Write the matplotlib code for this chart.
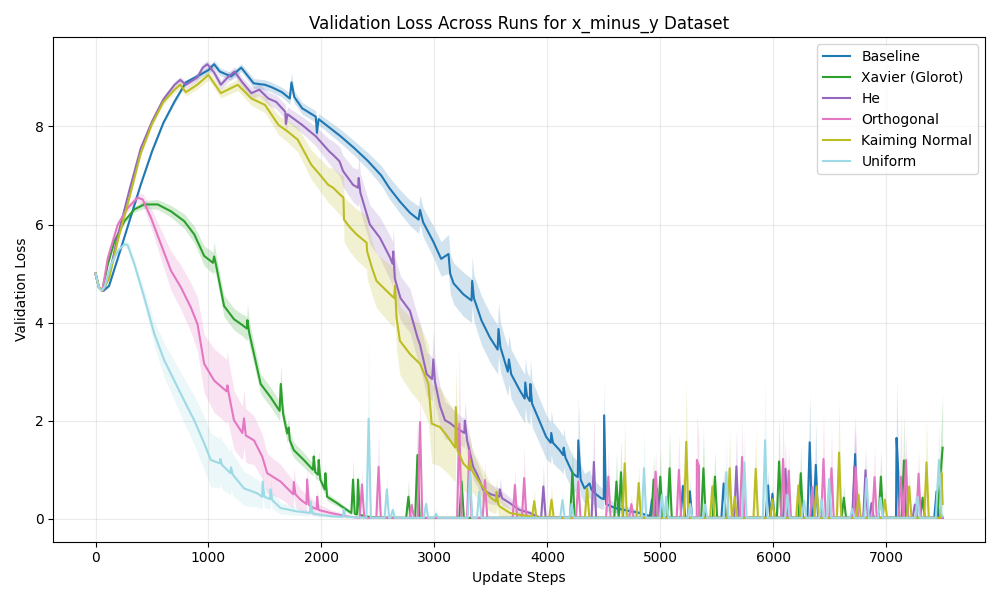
import numpy as np
import matplotlib
matplotlib.use("Agg")
import matplotlib.pyplot as plt

# ---- data: (step, mean, std) along each curve ----
baseline_curve = [(0,5.0,0.02),(30,4.72,0.02),(70,4.65,0.02),(120,4.75,0.03),(200,5.33,0.03),(300,6.07,0.03),
    (400,6.81,0.03),(500,7.49,0.04),(600,8.07,0.04),(700,8.51,0.05),(800,8.9,0.05),(900,9.02,0.06),(1000,9.15,0.07),
    (1050,9.27,0.08),(1100,9.12,0.08),(1200,9.02,0.08),(1290,9.2,0.08),(1400,8.88,0.1),(1500,8.85,0.1),(1560,8.8,0.1),
    (1650,8.7,0.1),(1720,8.57,0.12),(1735,8.9,0.2),(1760,8.6,0.12),(1830,8.37,0.12),(1950,8.2,0.12),(1960,7.87,0.15),
    (1975,8.15,0.12),(2020,8.07,0.12),(2170,7.8,0.14),(2290,7.56,0.15),(2410,7.3,0.17),(2530,7.0,0.2),(2600,6.75,0.22),
    (2695,6.47,0.24),(2784,6.24,0.26),(2860,6.1,0.28),(2873,6.3,0.3),(2900,6.05,0.3),(2991,5.65,0.32),(3060,5.3,0.35),
    (3125,5.4,0.4),(3140,5.0,0.4),(3170,4.8,0.42),(3256,4.58,0.45),(3329,4.45,0.45),(3335,4.85,0.5),(3350,4.5,0.47),
    (3418,4.04,0.5),(3491,3.7,0.5),(3560,3.45,0.5),(3568,3.87,0.55),(3585,3.5,0.5),(3650,3.0,0.5),(3660,3.25,0.5),
    (3680,2.95,0.5),(3756,2.62,0.5),(3800,2.45,0.5),(3805,2.78,0.5),(3820,2.5,0.5),(3845,2.4,0.48),(3850,2.75,0.5),
    (3865,2.35,0.47),(3990,1.67,0.45),(4030,1.55,0.42),(4035,1.75,0.45),(4050,1.55,0.42),(4109,1.4,0.4),(4140,1.3,0.38),
    (4145,1.45,0.4),(4160,1.25,0.37),(4226,0.92,0.35),(4270,0.85,0.33),(4274,1.6,0.9),(4295,0.8,0.32),(4329,0.62,0.3),
    (4374,0.72,0.28),(4390,0.6,0.27),(4432,0.5,0.25),(4476,0.42,0.22),(4500,0.4,0.2),(4503,2.11,0.7),(4520,0.3,0.15),
    (4600,0.22,0.1),(4700,0.17,0.08),(4800,0.13,0.06),(4900,0.06,0.03),(5000,0.03,0.01),(7500,0.02,0.01)]
# late spikes: (step, peak mean, band top)
baseline_spikes = [(4926,0.39,0.6),(5200,0.67,0.9),(5262,0.56,0.8),(5561,0.72,1.0),(5954,0.68,1.0),(5993,0.51,0.7),
    (6323,1.56,2.56),(6377,1.1,1.95),(6725,1.32,2.12),(7092,1.65,2.86),(7107,0.95,1.3),(7446,0.56,0.8)]

xavier_curve = [(0,5.0,0.02),(30,4.72,0.02),(60,4.65,0.02),(109,5.19,0.03),(168,5.66,0.04),(256,6.07,0.05),
    (344,6.31,0.06),(432,6.41,0.08),(550,6.41,0.1),(668,6.27,0.12),(785,6.07,0.15),(874,5.8,0.17),(962,5.36,0.2),
    (1040,5.22,0.22),(1050,5.35,0.3),(1065,5.2,0.22),(1138,4.34,0.22),(1226,4.07,0.22),(1300,3.95,0.22),(1340,3.88,0.25),
    (1345,4.05,0.35),(1360,3.8,0.25),(1403,3.36,0.22),(1462,2.75,0.2),(1550,2.48,0.2),(1630,2.2,0.2),(1640,2.75,0.4),
    (1660,2.15,0.2),(1697,1.74,0.18),(1710,1.86,0.2),(1720,1.6,0.17),(1756,1.4,0.16),(1844,1.2,0.15),(1925,1.0,0.13),
    (1932,1.27,0.2),(1945,0.95,0.13),(1970,0.9,0.12),(1976,1.2,0.2),(1990,0.8,0.12),(2030,0.6,0.1),(2035,0.93,0.2),
    (2050,0.45,0.08),(2138,0.32,0.06),(2226,0.18,0.05),(2265,0.12,0.04),(2280,0.8,0.45),(2295,0.1,0.04),(2315,0.09,0.04),
    (2324,0.8,0.2),(2340,0.08,0.03),(2374,0.06,0.02),(2450,0.03,0.01),(7450,0.02,0.01),(7500,1.45,1.1)]
xavier_spikes = [(2770,0.45,0.8),(2850,1.3,2.0),(3241,0.76,1.0),(4222,0.95,1.54),(4612,0.76,1.36),(4652,0.95,1.6),
    (4941,0.8,1.3),(5000,0.86,1.4),(5082,1.03,1.84),(5382,1.03,1.84),(5484,0.86,1.4),(6052,1.17,2.09),(6244,0.93,1.5),
    (6625,0.43,0.7),(6953,0.86,1.4),(7157,1.19,2.12),(7322,0.43,0.6)]

he_curve = [(0,5.0,0.02),(30,4.72,0.02),(70,4.65,0.02),(120,4.95,0.03),(200,5.8,0.03),(300,6.7,0.04),(400,7.55,0.05),
    (500,8.1,0.05),(600,8.55,0.06),(700,8.85,0.07),(750,8.95,0.07),(800,8.85,0.07),(900,9.0,0.08),(950,9.2,0.08),
    (990,9.27,0.08),(1050,9.1,0.1),(1110,8.85,0.1),(1170,9.0,0.1),(1230,9.12,0.1),(1300,8.9,0.1),(1380,8.68,0.12),
    (1450,8.75,0.12),(1530,8.57,0.13),(1600,8.5,0.14),(1680,8.3,0.15),(1685,8.05,0.2),(1700,8.25,0.15),(1830,8.03,0.17),
    (1950,7.8,0.2),(2070,7.49,0.25),(2104,7.42,0.28),(2160,7.29,0.3),(2192,7.09,0.32),(2280,6.81,0.35),(2325,6.75,0.38),
    (2330,6.95,0.5),(2345,6.65,0.38),(2429,6.0,0.4),(2518,5.73,0.42),(2607,5.33,0.45),(2630,5.2,0.45),(2636,5.45,0.5),
    (2650,4.9,0.45),(2700,4.5,0.45),(2784,4.24,0.45),(2850,3.7,0.45),(2873,3.55,0.45),(2932,2.95,0.45),(2980,2.85,0.45),
    (2991,3.25,0.6),(3005,2.8,0.45),(3050,2.3,0.4),(3094,2.01,0.38),(3140,1.95,0.35),(3182,1.87,0.33),(3230,1.8,0.3),
    (3265,1.75,0.3),(3270,2.0,0.4),(3290,1.6,0.3),(3344,1.06,0.27),(3380,0.9,0.25),(3432,0.59,0.22),(3500,0.5,0.2),
    (3575,0.45,0.17),(3580,0.6,0.25),(3600,0.42,0.15),(3668,0.32,0.12),(3756,0.18,0.08),(3844,0.12,0.05),
    (3900,0.06,0.03),(4000,0.03,0.01),(7500,0.02,0.01)]
he_spikes = [(3965,0.66,1.1),(4412,1.16,2.08),(4970,0.62,1.0),(5674,1.07,1.8),(6108,1.02,1.6),(6719,1.07,1.9),
    (6817,0.99,1.5),(6870,0.32,0.5),(7254,0.29,0.5)]

orthogonal_curve = [(0,5.0,0.02),(30,4.72,0.02),(60,4.65,0.02),(109,5.32,0.03),(197,6.0,0.05),(285,6.34,0.07),
    (374,6.55,0.1),(418,6.51,0.12),(491,6.14,0.2),(579,5.6,0.3),(668,5.06,0.4),(756,4.72,0.45),(844,4.31,0.5),
    (903,3.97,0.55),(962,3.16,0.6),(1050,2.82,0.65),(1160,2.6,0.65),(1168,2.72,0.7),(1180,2.55,0.65),(1226,2.01,0.6),
    (1300,1.75,0.55),(1315,2.05,0.6),(1330,1.7,0.55),(1403,1.6,0.5),(1476,1.27,0.45),(1520,0.93,0.4),(1638,0.76,0.35),
    (1750,0.5,0.28),(1756,0.75,0.3),(1770,0.5,0.27),(1815,0.39,0.22),(1868,0.3,0.2),(1873,0.8,0.3),(1890,0.28,0.18),
    (1932,0.22,0.15),(1958,0.2,0.13),(1962,0.45,0.2),(1975,0.18,0.12),(2079,0.12,0.07),(2226,0.05,0.03),
    (2300,0.03,0.01),(7500,0.02,0.01)]
orthogonal_spikes = [(2359,0.7,1.0),(2506,1.06,1.9),(2800,0.28,0.4),(2873,1.97,2.68),(3221,1.94,3.53),(3309,1.4,1.9),
    (3448,0.79,1.2),(3713,0.69,1.0),(3795,0.83,1.46),(4274,0.76,1.1),(4540,0.86,1.4),(4744,0.3,0.5),(4959,0.96,1.4),
    (5165,1.0,1.77),(5324,1.2,2.14),(5343,1.07,1.6),(5724,1.26,2.0),(6087,1.22,2.19),(6137,0.98,1.5),(6347,0.65,1.0),
    (6445,1.22,2.15),(6516,1.03,1.84),(6731,1.05,1.89),(6897,0.85,1.51),(7130,0.86,2.15),(7175,1.2,1.8),(7287,0.92,1.4)]

kaiming_curve = [(0,5.0,0.02),(30,4.72,0.02),(60,4.65,0.02),(120,4.9,0.03),(200,5.7,0.03),(300,6.55,0.04),
    (400,7.45,0.05),(500,8.05,0.05),(600,8.5,0.06),(700,8.75,0.07),(750,8.85,0.08),(800,8.7,0.08),(900,8.85,0.09),
    (1000,9.05,0.1),(1110,8.68,0.1),(1260,8.85,0.12),(1380,8.57,0.14),(1500,8.44,0.16),(1620,8.03,0.2),(1700,7.9,0.22),
    (1790,7.73,0.25),(1910,7.22,0.3),(1985,7.02,0.33),(2060,6.81,0.36),(2104,6.75,0.4),(2170,6.6,0.42),(2195,6.55,0.45),
    (2200,6.1,0.45),(2250,5.95,0.5),(2311,5.8,0.52),(2400,5.63,0.55),(2405,5.45,0.55),(2450,5.1,0.55),(2488,4.85,0.55),
    (2607,4.58,0.6),(2645,4.5,0.6),(2651,4.75,0.65),(2665,4.1,0.65),(2695,3.63,0.7),(2784,3.36,0.75),(2873,3.16,0.8),
    (2930,2.85,0.8),(2947,2.75,0.8),(2976,1.94,0.8),(3050,1.87,0.8),(3109,1.7,0.75),(3185,1.45,0.7),(3190,2.28,0.8),
    (3205,1.4,0.65),(3256,1.13,0.55),(3310,1.0,0.5),(3315,1.2,0.5),(3330,1.0,0.45),(3403,0.73,0.38),(3491,0.45,0.3),
    (3545,0.35,0.25),(3551,0.55,0.3),(3565,0.3,0.22),(3579,0.25,0.2),(3668,0.12,0.1),(3756,0.08,0.06),(3850,0.05,0.03),
    (3950,0.03,0.01),(7480,0.02,0.01),(7490,0.93,0.5),(7500,0.3,0.2)]
kaiming_spikes = [(3884,0.36,0.6),(4037,0.39,0.7),(4352,0.62,1.0),(4685,1.13,2.0),(4809,0.73,1.1),(5230,1.57,2.82),
    (5461,0.66,1.0),(5614,1.03,1.8),(5659,0.45,0.7),(5845,1.02,1.8),(5993,0.4,0.6),(6223,0.68,1.0),(6383,0.66,1.0),
    (6583,1.35,2.42),(6755,0.49,0.8),(6988,0.39,0.6),(7204,0.66,1.0),(7357,1.15,2.05)]

uniform_curve = [(0,5.0,0.02),(30,4.72,0.02),(50,4.65,0.02),(79,4.72,0.03),(138,5.19,0.04),(197,5.46,0.05),
    (256,5.6,0.07),(285,5.58,0.08),(344,5.19,0.1),(432,4.51,0.15),(521,3.77,0.25),(609,3.23,0.35),(697,2.82,0.4),
    (785,2.41,0.45),(874,2.01,0.5),(962,1.54,0.55),(1021,1.2,0.55),(1100,1.13,0.5),(1105,1.22,0.5),(1120,1.1,0.5),
    (1195,0.93,0.45),(1200,1.05,0.45),(1215,0.9,0.42),(1315,0.62,0.35),(1432,0.52,0.28),(1475,0.45,0.25),(1480,0.76,0.3),
    (1495,0.45,0.22),(1545,0.4,0.2),(1550,0.6,0.22),(1565,0.38,0.18),(1638,0.22,0.12),(1785,0.15,0.08),(1900,0.12,0.06),
    (1905,0.35,0.1),(1920,0.11,0.05),(1991,0.08,0.04),(2100,0.05,0.03),(2190,0.04,0.02),(2197,0.2,0.05),(2215,0.04,0.02),
    (2300,0.03,0.01),(7440,0.02,0.01),(7467,1.2,0.75),(7490,0.1,0.05),(7500,0.05,0.03)]
uniform_spikes = [(2418,2.04,3.63),(2579,0.6,0.9),(2632,0.18,0.3),(2926,0.3,0.5),(3015,0.1,0.2),(3315,0.96,1.4),
    (3397,0.55,0.8),(4134,0.38,0.6),(4215,0.3,0.5),(4856,1.03,1.84),(5015,0.49,0.8),(5053,0.45,0.7),(5265,0.3,0.5),
    (5396,0.29,0.5),(5585,0.95,1.6),(5744,1.15,1.8),(5928,1.6,2.86),(6125,0.49,0.8),(6273,0.37,0.6),(6427,0.4,0.6),
    (6495,0.81,1.2),(6699,0.2,0.3),(6826,0.83,1.3),(6950,0.43,0.7),(7278,0.45,0.7)]

labels = ["Baseline", "Xavier (Glorot)", "He", "Orthogonal", "Kaiming Normal", "Uniform"]
curves = [baseline_curve, xavier_curve, he_curve, orthogonal_curve, kaiming_curve, uniform_curve]
spikes = [baseline_spikes, xavier_spikes, he_spikes, orthogonal_spikes, kaiming_spikes, uniform_spikes]
colors = ["#1f77b4", "#2ca02c", "#9467bd", "#e377c2", "#bcbd22", "#9edae5"]

FLOOR = 0.02      # converged loss level between spikes
HALF_W = 20       # spike half-width in steps


def build(curve, spk):
    pts = [(s, m, m - sd, m + sd) for s, m, sd in curve]
    for s, peak, top in spk:
        pts.append((s - HALF_W, FLOOR, FLOOR, FLOOR))
        pts.append((s, peak, max(0.0, 2 * peak - top), top))
        pts.append((s + HALF_W, FLOOR, FLOOR, FLOOR))
    pts.sort(key=lambda p: p[0])
    arr = np.array(pts)
    return arr[:, 0], arr[:, 1], np.clip(arr[:, 2], 0, None), arr[:, 3]


fig, ax = plt.subplots(figsize=(10, 6), dpi=100)
for lab, cur, spk, col in zip(labels, curves, spikes, colors):
    x, m, lo, hi = build(cur, spk)
    ax.plot(x, m, color=col, linewidth=1.5, label=lab)
    ax.fill_between(x, lo, hi, color=col, alpha=0.2, linewidth=0)

ax.set_title("Validation Loss Across Runs for x_minus_y Dataset")
ax.set_xlabel("Update Steps")
ax.set_ylabel("Validation Loss")
ax.grid(True, alpha=0.25)
ax.legend(loc="upper right")
fig.tight_layout()
fig.savefig("out.png")
